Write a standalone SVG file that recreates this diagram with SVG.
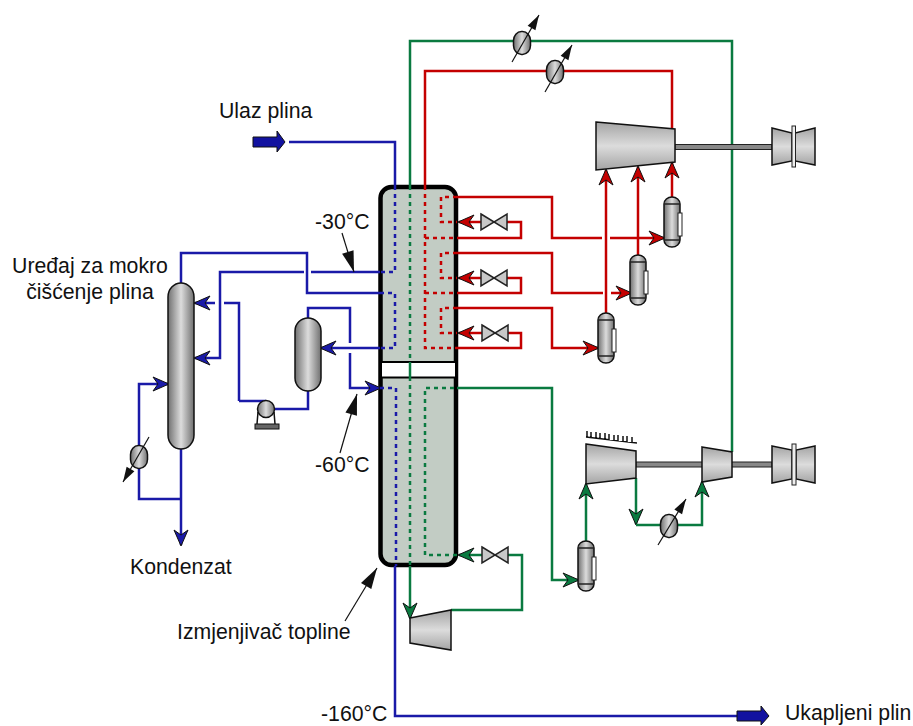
<svg xmlns="http://www.w3.org/2000/svg" xmlns:xlink="http://www.w3.org/1999/xlink" width="913" height="726" viewBox="0 0 913 726">
<style>
text{font-family:"Liberation Sans",Arial,sans-serif;font-size:21.250px;fill:#111}
.c{fill:none;stroke-width:2.500}
.b{stroke:#1a1aa8}.r{stroke:#c40000}.g{stroke:#0a7a40}
.d{stroke-dasharray:4 4}
.lead{fill:none;stroke:#111;stroke-width:1.200;marker-end:url(#lead)}
.lead2{fill:none;stroke:#111;stroke-width:1.200;marker-end:url(#lead2)}
.eq{stroke:#111;stroke-width:1.500}
.h{fill:url(#hg)}.v{fill:url(#vg)}
.valve{fill:#c8c8c8;stroke:#222;stroke-width:1.500}
.ab{marker-end:url(#ab)}.ar{marker-end:url(#ar)}.ag{marker-end:url(#ag)}
</style>
<defs>
<linearGradient id="hg" x1="0" x2="1" y1="0" y2="0"><stop offset="0" stop-color="#707070"/><stop offset=".5" stop-color="#dcdcdc"/><stop offset="1" stop-color="#707070"/></linearGradient>
<linearGradient id="vg" x1="0" x2="0" y1="0" y2="1"><stop offset="0" stop-color="#a4a4a4"/><stop offset=".5" stop-color="#dcdcdc"/><stop offset="1" stop-color="#a4a4a4"/></linearGradient>
<marker id="ab" markerUnits="userSpaceOnUse" markerWidth="20" markerHeight="18" refX="15" refY="9" orient="auto" overflow="visible"><path d="M16 9L0 2L5 9L0 16Z" fill="#1a1aa8" stroke="#111"/></marker>
<marker id="ar" markerUnits="userSpaceOnUse" markerWidth="20" markerHeight="18" refX="15" refY="9" orient="auto" overflow="visible"><path d="M16 9L0 2L5 9L0 16Z" fill="#c40000" stroke="#111"/></marker>
<marker id="ag" markerUnits="userSpaceOnUse" markerWidth="20" markerHeight="18" refX="15" refY="9" orient="auto" overflow="visible"><path d="M16 9L0 2L5 9L0 16Z" fill="#0a7a40" stroke="#111"/></marker>
<marker id="lead" markerUnits="userSpaceOnUse" markerWidth="24" markerHeight="16" refX="21" refY="8" orient="auto" overflow="visible"><path d="M21 8L0 2L0 14Z" fill="#111"/></marker>
<marker id="lead2" markerUnits="userSpaceOnUse" markerWidth="18" markerHeight="14" refX="15" refY="7" orient="auto" overflow="visible"><path d="M15 7L0 2.500L0 11.500Z" fill="#111"/></marker>
<g id="vsl"><rect x="-8" y="0" width="16" height="50" rx="8" ry="7" class="h eq"/><path d="M-8 7H8M-8 43H8" stroke="#222" stroke-width="1.500"/><rect x="6" y="16" width="4" height="23" fill="#fff" stroke="#222"/></g>
<g id="vlv"><path d="M-13 -8L13 8V-8L-13 8Z" class="valve"/></g>
<rect id="hx" x="-8.500" y="-11.500" width="17" height="23" rx="8" ry="9" class="h eq"/>
</defs>

<g id="heat-exchanger-column">
<rect x="380.500" y="187" width="75.500" height="378" rx="11" fill="#c2ccc4" stroke="#000" stroke-width="4.500"/>
<rect x="381" y="362" width="75" height="15.500" fill="#fff" stroke="#000" stroke-width="2"/>
</g>

<g id="connectors">
<g class="c b">
<path d="M289 142H395V186"/>
<path class="d" d="M395 186V272H380"/>
<path d="M380 272H311M304 272H220V358H195" class="ab"/>
<path class="d" d="M380 293H395V348H380"/>
<path d="M380 293H307V253H181V283"/>
<path d="M380 348H321" class="ab"/>
<path d="M308 318V308H350V343M350 353V388H380" class="ab"/>
<path class="d" d="M380 388H396V566"/>
<path d="M395 566V716H737"/>
<path d="M239 401V303H224M215 303H195" class="ab"/>
<path d="M266 401H239"/>
<path d="M274 409H308V391"/>
<path d="M181 449V545" class="ab"/>
<path d="M181 499H139V384H168" class="ab"/>
</g>
<g class="c r">
<path d="M672 129V71H425V186"/>
<path class="d" d="M425 186V348H457"/>
<path class="d" d="M425 238H457M425 293H457"/>
<path d="M457 197H552V238H602M610 238H664" class="ar"/>
<path class="d" d="M457 197H441V222H457"/>
<path d="M481 222H459" class="ar"/>
<path d="M507 222H521V238H457"/>
<path d="M457 253H552V293H603M611 293H631" class="ar"/>
<path class="d" d="M457 253H441V278H457"/>
<path d="M481 278H459" class="ar"/>
<path d="M507 278H521V293H457"/>
<path d="M457 308H552V348H598" class="ar"/>
<path class="d" d="M457 308H441V333H457"/>
<path d="M482 333H459" class="ar"/>
<path d="M507 333H521V348H457"/>
<path d="M606 313V170" class="ar"/>
<path d="M638 256V167" class="ar"/>
<path d="M672 197V163" class="ar"/>
</g>
<g class="c g">
<path d="M732 452V41H410V186"/>
<path class="d" d="M410 186V362"/>
<path d="M410 362V377"/>
<path class="d" d="M410 377V566"/>
<path d="M410 566V618" class="ag"/>
<path d="M451 610H522V555H507"/>
<path d="M482 555H459" class="ag"/>
<path class="d" d="M457 555H425V388H457"/>
<path d="M457 388H552V580H578" class="ag"/>
<path d="M586 541V484" class="ag"/>
<path d="M636 478V524" class="ag"/>
<path d="M636 525H702V482" class="ag"/>
</g>
<path class="lead" d="M342 233L354 272"/>
<path class="lead" d="M340 453L357 394"/>
<path class="lead" d="M345 621L377 568"/>
</g>

<g id="feed-arrow"><path d="M253 137H277V131L285 142L277 152V147H253Z" fill="#1212a0" stroke="#111"/></g>
<g id="product-arrow"><path d="M737 711H761V706L769 716L761 725V721H737Z" fill="#1212a0" stroke="#111"/></g>

<g id="scrubber"><rect x="168" y="283" width="26" height="166" rx="13" ry="14" class="h eq"/></g>
<g id="separator"><rect x="295" y="318" width="26" height="73" rx="13" ry="13" class="h eq"/></g>
<g id="pump">
<path d="M258 412L257 424M274 412L275 424" stroke="#111" stroke-width="1.500" fill="none"/>
<rect x="255" y="424" width="24" height="5" fill="#666" stroke="#111"/>
<circle cx="266" cy="409" r="8.500" class="h eq"/>
</g>
<g id="reboiler"><use xlink:href="#hx" href="#hx" x="139" y="457"/><path class="lead2" d="M149 437L123 482"/></g>
<g id="cooler-1"><use xlink:href="#hx" href="#hx" x="522" y="43"/><path class="lead2" d="M512 62L539 15"/></g>
<g id="cooler-2"><use xlink:href="#hx" href="#hx" x="555" y="72"/><path class="lead2" d="M545 92L572 45"/></g>
<g id="cooler-3"><use xlink:href="#hx" href="#hx" x="669" y="526"/><path class="lead2" d="M658 545L686 499"/></g>

<g id="valve-1"><use xlink:href="#vlv" href="#vlv" x="494" y="222"/></g>
<g id="valve-2"><use xlink:href="#vlv" href="#vlv" x="494" y="278"/></g>
<g id="valve-3"><use xlink:href="#vlv" href="#vlv" x="495" y="333"/></g>
<g id="valve-4"><use xlink:href="#vlv" href="#vlv" x="495" y="555"/></g>

<g id="drum-1"><use xlink:href="#vsl" href="#vsl" x="606" y="313"/></g>
<g id="drum-2"><use xlink:href="#vsl" href="#vsl" x="638" y="255"/></g>
<g id="drum-3"><use xlink:href="#vsl" href="#vsl" x="672" y="197"/></g>
<g id="drum-4"><use xlink:href="#vsl" href="#vsl" x="586" y="541"/></g>

<g id="red-compressor-train">
<rect x="675" y="144.500" width="97" height="5" fill="#888" stroke="#222"/>
<path d="M596 122L675 129V162L596 170Z" class="v eq"/>
<path d="M772 128L792 133V161L772 165Z" class="v eq"/>
<path d="M815 128L795 133V161L815 165Z" class="v eq"/>
<rect x="792" y="126" width="3.500" height="41" fill="#eee" stroke="#222"/>
</g>

<g id="green-compressor-train">
<rect x="636" y="462" width="136" height="5" fill="#888" stroke="#222"/>
<path d="M586 444L636 451V478L586 484Z" class="v eq"/>
<path d="M702 447L732 452V477L702 482Z" class="v eq"/>
<path d="M772 446L792 450V479L772 483Z" class="v eq"/>
<path d="M815 446L796 450V479L815 483Z" class="v eq"/>
<rect x="792" y="444" width="4" height="41" fill="#eee" stroke="#222"/>
<path d="M586 437L637 443M587 431V437M591 432V438M596 432V438M600 433V439M605 433V439M609 434V440M614 435V441M618 435V441M623 436V442M627 436V442M632 437V443" fill="none" stroke="#111" stroke-width="1.500"/>
</g>

<g id="expander"><path d="M410 618L451 610V650L410 643Z" class="v eq"/></g>

<g id="labels">
<text x="219" y="118">Ulaz plina</text>
<text x="315" y="229">-30°C</text>
<text x="90" y="273" text-anchor="middle">Uređaj za mokro</text>
<text x="90" y="299" text-anchor="middle">čišćenje plina</text>
<text x="315" y="472">-60°C</text>
<text x="130" y="574">Kondenzat</text>
<text x="177" y="639">Izmjenjivač topline</text>
<text x="321" y="721">-160°C</text>
<text x="785" y="720">Ukapljeni plin</text>
</g>
</svg>
